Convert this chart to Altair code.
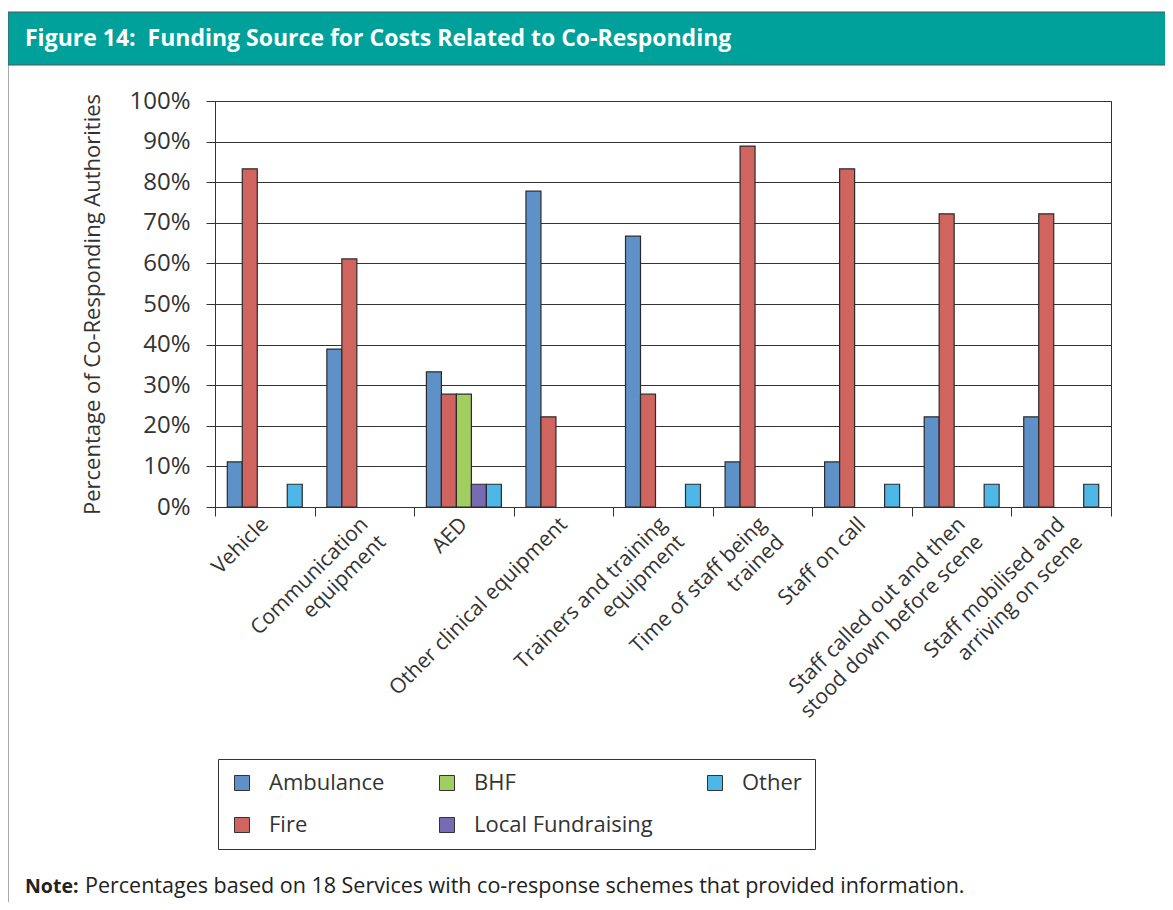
import altair as alt
import pandas as pd

# ---- data ----
categories = [
    "Vehicle",
    "Communication|equipment",
    "AED",
    "Other clinical equipment",
    "Trainers and training|equipment",
    "Time of staff being|trained",
    "Staff on call",
    "Staff called out and then|stood down before scene",
    "Staff mobilised and|arriving on scene",
]
series = ["Ambulance", "Fire", "BHF", "Local Fundraising", "Other"]
ambulance = [11.1, 38.9, 33.3, 77.8, 66.7, 11.1, 11.1, 22.2, 22.2]
fire = [83.3, 61.1, 27.8, 22.2, 27.8, 88.9, 83.3, 72.2, 72.2]
bhf = [0, 0, 27.8, 0, 0, 0, 0, 0, 0]
local_fundraising = [0, 0, 5.6, 0, 0, 0, 0, 0, 0]
other = [5.6, 0, 5.6, 0, 5.6, 0, 5.6, 5.6, 5.6]
series_colors = ["#5f91c9", "#d0645e", "#a2cd60", "#776bb3", "#4db7e7"]
y_ticks = [0, 10, 20, 30, 40, 50, 60, 70, 80, 90, 100]

title_text = ["Figure 14:\u00a0 Funding Source for Costs Related to Co-Responding"]
note_bold = ["Note:"]
note_text = ["Percentages based on 18 Services with co-response schemes that provided information."]

FONT = "Open Sans"
INK = "#333333"

rows = []
for s, vals in zip(series, [ambulance, fire, bhf, local_fundraising, other]):
    for c, v in zip(categories, vals):
        if v > 0:
            rows.append({"category": c, "series": s, "value": v})
df = pd.DataFrame(rows)

# legend is laid out row-wise in 3 columns: Ambulance, BHF, Other / Fire, Local Fundraising
legend_order = ["Ambulance", "BHF", "Other", "Fire", "Local Fundraising"]
color_map = dict(zip(series, series_colors))
legend_colors = [color_map[s] for s in legend_order]

bars = alt.Chart(df).mark_bar(stroke="#2b2b2b", strokeWidth=1.2).encode(
    x=alt.X(
        "category:N",
        sort=categories,
        scale=alt.Scale(paddingInner=0, paddingOuter=0),
        axis=alt.Axis(
            title=None,
            labelAngle=-45,
            labelAlign="right",
            labelBaseline="middle",
            labelExpr="split(datum.label, '|')",
            labelFontSize=21,
            labelFont=FONT,
            labelColor=INK,
            labelLimit=0,
            labelOverlap=False,
            labelPadding=5,
            labelLineHeight=25,
            tickBand="extent",
            tickSize=9,
            tickColor=INK,
            domainColor=INK,
            grid=False,
        ),
    ),
    xOffset=alt.XOffset(
        "series:N",
        sort=series,
        scale=alt.Scale(domain=series, paddingInner=0, paddingOuter=0.82),
    ),
    y=alt.Y(
        "value:Q",
        scale=alt.Scale(domain=[0, 100], nice=False),
        axis=alt.Axis(
            values=y_ticks,
            labelExpr="datum.value + '%'",
            title="Percentage of Co-Responding Authorities",
            titleFont=FONT,
            titleFontSize=22,
            titleFontWeight="normal",
            titleColor=INK,
            titlePadding=24,
            labelFont=FONT,
            labelFontSize=24,
            labelColor=INK,
            labelPadding=16,
            tickSize=9,
            tickColor=INK,
            domainColor=INK,
            gridColor=INK,
            gridWidth=1,
        ),
    ),
    color=alt.Color(
        "series:N",
        scale=alt.Scale(domain=legend_order, range=legend_colors),
        legend=alt.Legend(
            title=None,
            orient="none",
            legendX=3,
            legendY=658,
            direction="horizontal",
            columns=3,
            columnPadding=51,
            rowPadding=20,
            padding=13,
            fillColor="white",
            strokeColor=INK,
            symbolType="square",
            symbolSize=225,
            symbolStrokeColor=INK,
            symbolStrokeWidth=1,
            symbolOpacity=1,
            labelFont=FONT,
            labelFontSize=22,
            labelColor=INK,
            labelOffset=16,
            labelLimit=0,
        ),
    ),
)

one = pd.DataFrame({"k": [0]})

banner = alt.Chart(one).mark_rect(fill="#00a19a", stroke="#555555", strokeWidth=1).encode(
    x=alt.value(-207), x2=alt.value(960), y=alt.value(-89), y2=alt.value(-36)
)
frame = alt.Chart(one).mark_rule(color="#555555", strokeWidth=1).encode(
    x=alt.value(-207), y=alt.value(-36), y2=alt.value(805)
)
title = alt.Chart(pd.DataFrame({"t": title_text})).mark_text(
    align="left", baseline="middle", font=FONT, fontSize=23, fontWeight="bold", color="white"
).encode(x=alt.value(-190), y=alt.value(-62), text="t:N")
note1 = alt.Chart(pd.DataFrame({"t": note_bold})).mark_text(
    align="left", baseline="middle", font=FONT, fontSize=19.5, fontWeight="bold", color="#222222"
).encode(x=alt.value(-190), y=alt.value(786), text="t:N")
note2 = alt.Chart(pd.DataFrame({"t": note_text})).mark_text(
    align="left", baseline="middle", font=FONT, fontSize=21.5, color="#222222"
).encode(x=alt.value(-130), y=alt.value(786), text="t:N")

chart = (
    alt.layer(banner, frame, bars, title, note1, note2)
    .properties(
        width=896,
        height=406,
        padding={"left": 207, "top": 93, "right": 54, "bottom": 395},
        autosize=alt.AutoSizeParams(type="none"),
        background="white",
    )
    .configure_view(stroke=INK, strokeWidth=1)
)

chart.save("out.html", embed_options={"renderer": "svg", "actions": False})
